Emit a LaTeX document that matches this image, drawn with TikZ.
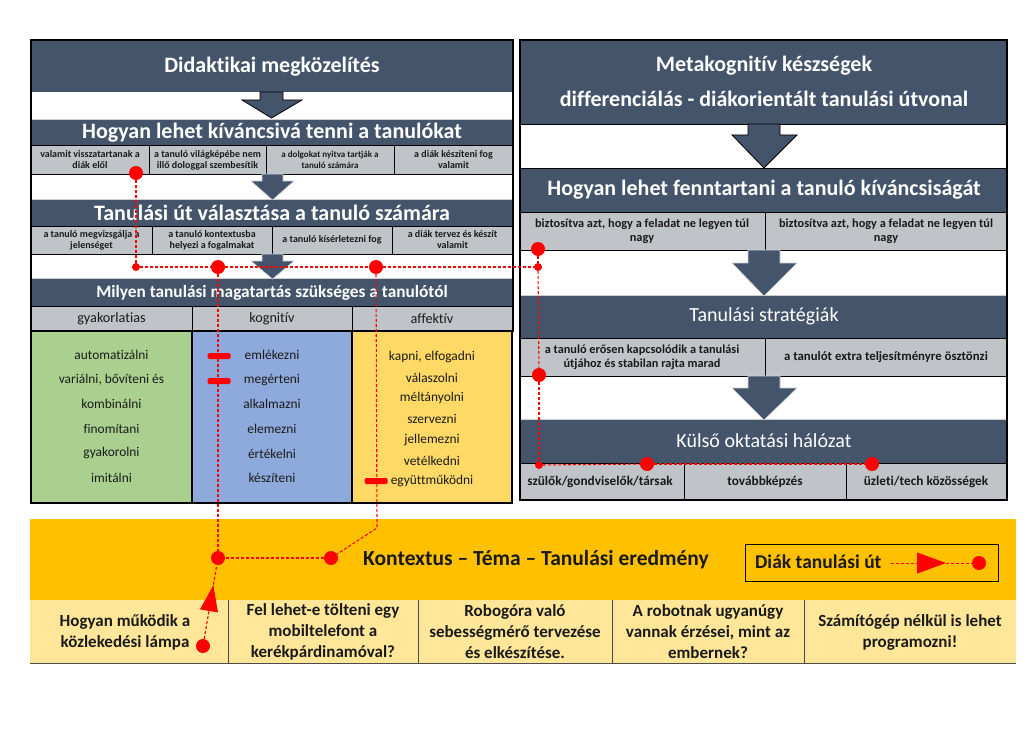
\documentclass[tikz,border=0pt]{standalone}
\usepackage{fontspec}
\setmainfont{Carlito}[Ligatures=NoCommon]
\usetikzlibrary{arrows.meta,calc}
\definecolor{dark}{HTML}{44546A}
\definecolor{cellgray}{HTML}{C0C3C8}
\definecolor{cgreen}{HTML}{A9D08E}
\definecolor{cblue}{HTML}{8EA9DB}
\definecolor{cyellow}{HTML}{FFD966}
\definecolor{corange}{HTML}{FFC000}
\definecolor{clight}{HTML}{FFE699}
\definecolor{ink}{HTML}{1A1A1A}
\begin{document}
\begin{tikzpicture}[x=1pt,y=-1pt,
 hdr/.style={text=white,font=\bfseries\fontsize{22}{26}\selectfont,inner sep=0pt},
 hdrl/.style={text=white,font=\fontsize{20}{24}\selectfont,inner sep=0pt},
 smallcell/.style={text=ink,font=\bfseries\fontsize{10}{11}\selectfont,align=center,inner sep=0pt},
 midcell/.style={text=ink,font=\bfseries\fontsize{12.3}{14}\selectfont,align=center,inner sep=0pt},
 colhead/.style={text=ink,font=\fontsize{14.2}{16}\selectfont,inner sep=0pt},
 listitem/.style={text=ink,font=\fontsize{13.4}{16}\selectfont,inner sep=0pt},
 qcell/.style={text=ink,font=\bfseries\fontsize{17}{21}\selectfont,align=center,inner sep=0pt},
 cellsep/.style={draw=black,line width=0.8pt},
 panelframe/.style={draw=black,line width=2pt},
 darrow/.style={fill=dark,draw=white!75!dark,line width=0.6pt},
 bigdot/.style={circle,fill=red,inner sep=0pt,minimum size=14pt},
 smalldot/.style={circle,fill=red,inner sep=0pt,minimum size=8pt},
 redbar/.style={rectangle,rounded corners=1.5pt,fill=red,inner sep=0pt,minimum width=23pt,minimum height=6pt},
 redpath/.style={draw=red,line width=1.1pt,dash pattern=on 3pt off 2pt},
]
\useasboundingbox (0,0) rectangle (1036,733);
\fill[white] (0,0) rectangle (1036,733);

% ---------------- left panel ----------------
\fill[dark] (31,40) rectangle (513,92);
\fill[dark] (31,120) rectangle (513,145);
\fill[cellgray] (31,145) rectangle (513,174);
\fill[dark] (31,200) rectangle (513,226);
\fill[cellgray] (31,226) rectangle (513,254);
\fill[dark] (31,279) rectangle (513,306);
\fill[cellgray] (31,306) rectangle (513,331);
\draw[gray!40,line width=1pt] (31,119.5)--(513,119.5) (31,199.5)--(513,199.5) (31,278.5)--(513,278.5);
\draw[cellsep] (31,145)--(513,145) (31,174)--(513,174) (149,145)--(149,174) (266,145)--(266,174) (394,145)--(394,174);
\draw[cellsep] (31,226)--(513,226) (31,254)--(513,254) (152,226)--(152,254) (272,226)--(272,254) (392,226)--(392,254);
\draw[cellsep] (31,306)--(513,306) (192,306)--(192,331) (352,306)--(352,331);
\filldraw[fill=cgreen,draw=black,line width=1.2pt] (31,331) rectangle (192,503);
\filldraw[fill=cblue,draw=black,line width=1.2pt] (192,331) rectangle (352,503);
\filldraw[fill=cyellow,draw=black,line width=1.2pt] (352,331) rectangle (512,503);
\draw[panelframe] (31,40) rectangle (513,331);

% arrows left
\filldraw[fill=dark,draw=black,line width=0.8pt] (260,92)--(283,92)--(283,100)--(302,100)--(271.5,118)--(242,100)--(260,100)--cycle;
\filldraw[darrow] (262,174)--(283,174)--(283,181)--(294,181)--(272.5,200)--(251,181)--(262,181)--cycle;
\filldraw[darrow] (262,254)--(283,254)--(283,261)--(294,261)--(272.5,279)--(251,261)--(262,261)--cycle;

% left texts
\node[hdr] (lh1) at (272,67) {Didaktikai megközelítés};
\node[hdr] (lh2) at (272,133) {Hogyan lehet kíváncsivá tenni a tanulókat};
\node[smallcell] (c11) at (90,160) {valamit visszatartanak a\\diák elől};
\node[smallcell] (c12) at (207.5,160) {a tanuló világképébe nem\\illő dologgal szembesítik};
\node[smallcell,font=\bfseries\fontsize{9}{11}\selectfont] (c13) at (330,160) {a dolgokat nyitva tartják a\\tanuló számára};
\node[smallcell] (c14) at (453.5,160) {a diák készíteni fog\\valamit};
\node[hdr] (lh3) at (272,213) {Tanulási út választása a tanuló számára};
\node[smallcell] (c21) at (91.5,240) {a tanuló megvizsgálja a\\jelenséget};
\node[smallcell] (c22) at (212,240) {a tanuló kontextusba\\helyezi a fogalmakat};
\node[smallcell] (c23) at (332,240) {a tanuló kísérletezni fog};
\node[smallcell] (c24) at (452.5,240) {a diák tervez és készít\\valamit};
\node[hdr,font=\bfseries\fontsize{17.3}{20}\selectfont] (lh4) at (272,293) {Milyen tanulási magatartás szükséges a tanulótól};
\node[colhead] (g1) at (111.5,319) {gyakorlatias};
\node[colhead] (g2) at (272,319) {kognitív};
\node[colhead] (g3) at (432,319) {affektív};

\foreach \t [count=\i] in {automatizálni,{variálni, bővíteni és},kombinálni,finomítani,gyakorolni,imitálni}
  \node[listitem] (gi\i) at (111.5,{355+24.6*(\i-1)}) {\t};
\foreach \t [count=\i] in {emlékezni,megérteni,alkalmazni,elemezni,értékelni,készíteni}
  \node[listitem] (bi\i) at (272,{355+24.6*(\i-1)}) {\t};
\foreach \t [count=\i] in {{kapni, elfogadni},válaszolni,méltányolni,szervezni,jellemezni,vetélkedni,együttműködni}
  \node[listitem] (yi\i) at (432,{357+20.7*(\i-1)}) {\t};

% ---------------- right panel ----------------
\fill[dark] (520,40) rectangle (1007,124);
\fill[dark] (520,168) rectangle (1007,212);
\fill[cellgray] (520,212) rectangle (1007,250);
\fill[dark] (520,296) rectangle (1007,338);
\fill[cellgray] (520,338) rectangle (1007,376);
\fill[dark] (520,420) rectangle (1007,463);
\fill[cellgray] (520,463) rectangle (1007,500);
\draw[gray!40,line width=1pt] (520,295.5)--(1007,295.5) (520,419.5)--(1007,419.5);
\draw[cellsep] (520,124)--(1007,124) (520,168)--(1007,168) (520,212)--(1007,212) (520,250)--(1007,250) (765,212)--(765,250);
\draw[cellsep] (520,338)--(1007,338) (520,376)--(1007,376) (765,338)--(765,376);
\draw[cellsep] (520,463)--(1007,463) (684,463)--(684,500) (846,463)--(846,500);
\draw[panelframe] (520,40) rectangle (1007,500);

\filldraw[fill=dark,draw=black,line width=0.8pt] (748,124)--(780,124)--(780,135)--(797,135)--(764,168)--(732,135)--(748,135)--cycle;
\filldraw[darrow] (748,250)--(780,250)--(780,263)--(797,263)--(764,296)--(732,263)--(748,263)--cycle;
\filldraw[darrow] (748,376)--(780,376)--(780,388)--(797,388)--(764,420)--(732,388)--(748,388)--cycle;

\node[hdr] (rh1) at (764,66) {Metakognitív készségek};
\node[hdr] (rh2) at (764,99) {differenciálás - diákorientált tanulási útvonal};
\node[hdr] (rh3) at (764,190) {Hogyan lehet fenntartani a tanuló kíváncsiságát};
\node[midcell] (r11) at (642,231) {biztosítva azt, hogy a feladat ne legyen túl\\nagy};
\node[midcell] (r12) at (886,231) {biztosítva azt, hogy a feladat ne legyen túl\\nagy};
\node[hdrl] (rh4) at (764,316) {Tanulási stratégiák};
\node[midcell] (r21) at (642,357) {a tanuló erősen kapcsolódik a tanulási\\útjához és stabilan rajta marad};
\node[midcell,font=\bfseries\fontsize{12.8}{14}\selectfont] (r22) at (886,357) {a tanulót extra teljesítményre ösztönzi};
\node[hdrl] (rh5) at (764,441) {Külső oktatási hálózat};
\node[midcell,font=\bfseries\fontsize{13.3}{15}\selectfont] (r31) at (600,482) {szülők/gondviselők/társak};
\node[midcell,font=\bfseries\fontsize{13.3}{15}\selectfont] (r32) at (765,482) {továbbképzés};
\node[midcell,font=\bfseries\fontsize{13.3}{15}\selectfont] (r33) at (926,482) {üzleti/tech közösségek};

% ---------------- bottom ----------------
\fill[corange] (30,519) rectangle (1016,600);
\fill[clight] (30,600) rectangle (1016,663);
\draw[draw=black!70,line width=0.6pt] (30,663)--(1016,663) (228,600)--(228,663) (418,600)--(418,663) (612,600)--(612,663) (804,600)--(804,663);
\node[text=ink,font=\bfseries\fontsize{21.5}{26}\selectfont,inner sep=0pt] (ctx) at (536,560) {Kontextus – Téma – Tanulási eredmény};
\node[draw=black,line width=1pt,minimum width=253pt,minimum height=37pt,inner sep=0pt] (legbox) at (871.5,562.5) {};
\node[text=ink,font=\bfseries\fontsize{19.5}{22}\selectfont,inner sep=0pt,anchor=west] (legtxt) at (755,562) {Diák tanulási út};
\node[qcell] (q1) at (125,632) {Hogyan működik a\\közlekedési lámpa};
\node[qcell] (q2) at (323,632) {Fel lehet-e tölteni egy\\mobiltelefont a\\kerékpárdinamóval?};
\node[qcell] (q3) at (515,632) {Robogóra való\\sebességmérő tervezése\\és elkészítése.};
\node[qcell] (q4) at (708,632) {A robotnak ugyanúgy\\vannak érzései, mint az\\embernek?};
\node[qcell] (q5) at (910,632) {Számítógép nélkül is lehet\\programozni!};

% ---------------- red path ----------------
\node[redbar] (rb1) at (219,356) {};
\node[redbar] (rb2) at (219,381) {};
\node[redbar] (rb3) at (376,481) {};

\node[bigdot] (p1) at (136,173) {};
\node[smalldot] (s1) at (136,267) {};
\node[bigdot] (p2) at (218,267) {};
\node[bigdot] (p3) at (376,267) {};
\node[smalldot] (s2) at (538,267) {};
\node[bigdot] (p4) at (538,249) {};
\node[bigdot] (p5) at (539,375) {};
\node[smalldot] (s3) at (539,465) {};
\node[bigdot] (p6) at (647,464) {};
\node[bigdot] (p7) at (872,464) {};
\node[bigdot] (p8) at (218,558) {};
\node[bigdot] (p9) at (331,558) {};
\node[bigdot] (p10) at (203,646) {};
\coordinate (k1) at (377,528);

\draw[redpath] (p1) -- (s1);
\draw[redpath] (s1) -- (p2);
\draw[redpath] (p2) -- (p3);
\draw[redpath] (p3) -- (s2);
\draw[redpath] (p4) -- (s2);
\draw[redpath] (s2) -- (p5);
\draw[redpath] (p5) -- (s3);
\draw[redpath] (s3) -- (p6);
\draw[redpath] (p6) -- (p7);
\draw[redpath] (p2) -- (p8);
\draw[redpath] (p3) -- (k1) -- (p9);
\draw[redpath] (p9) -- (p8);
\draw[redpath] (p10) -- (p8);
\coordinate (ab) at ($(p10)!0.40!(p8)$);
\coordinate (at) at ($(p10)!0.69!(p8)$);
\draw[red,line width=1pt,-{Triangle[length=26pt,width=18pt]}] (ab) -- (at);

% legend path
\coordinate (l0) at (891,563);
\node[bigdot] (lc) at (979,563) {};
\coordinate (la) at (917,563);
\coordinate (lb) at (946,563);
\draw[redpath,line width=0.8pt] (l0) -- (lc);
\draw[red,line width=0.8pt,-{Triangle[length=29pt,width=21pt]}] (la) -- (lb);
\end{tikzpicture}
\end{document}
